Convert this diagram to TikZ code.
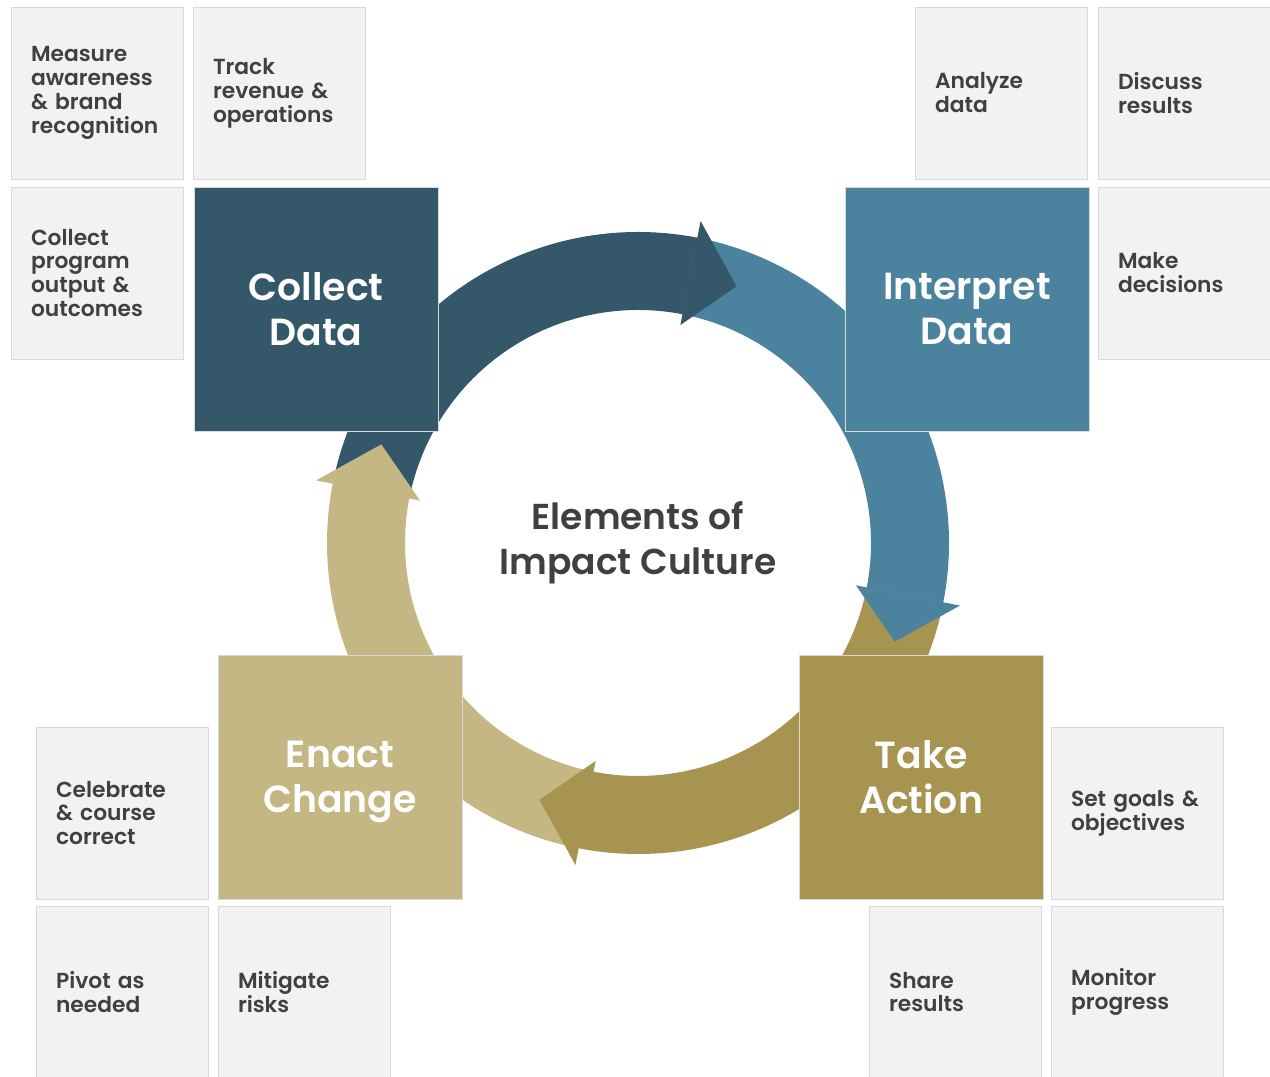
\documentclass[tikz,border=0pt]{standalone}
\usepackage{fontspec}
\setmainfont{Poppins}[BoldFont={Poppins SemiBold}]
\usetikzlibrary{calc}
\definecolor{slateteal}{HTML}{34586A}
\definecolor{steelblue}{HTML}{4B839E}
\definecolor{olivegold}{HTML}{A69450}
\definecolor{sandtan}{HTML}{C4B783}
\definecolor{panelgray}{HTML}{F2F2F2}
\definecolor{panelline}{HTML}{D9D9D9}
\definecolor{textdark}{HTML}{404040}

\begin{document}
\begin{tikzpicture}[x=0.02cm, y=0.02cm,
    stagebox/.style={draw=panelline, line width=0.5pt, minimum width=4.88cm, minimum height=4.88cm,
        text=white, align=center, font=\fontsize{21.5}{25.5}\selectfont\bfseries},
    tipbox/.style={draw=panelline, fill=panelgray, line width=0.5pt, text width=2.64cm, inner xsep=0.4cm,
        minimum height=3.44cm, align=left, text=textdark, font=\fontsize{12.4}{13.6}\selectfont\bfseries}]
    \useasboundingbox (0,0) rectangle (1270,1077);
    \coordinate (hub) at (638,534);

    % Cycle arrows (bodies first, heads on top)
    \foreach \tail/\col in {169/slateteal, 79/steelblue, -11/olivegold, -101/sandtan}
        \fill[\col] ($(hub)+(\tail:311)$) arc[start angle=\tail, end angle=\tail-91, radius=311]
            -- ($(hub)+(\tail-91:233)$) arc[start angle=\tail-91, end angle=\tail, radius=233] -- cycle;
    \foreach \tail/\col in {169/slateteal, 79/steelblue, -11/olivegold, -101/sandtan}
        \fill[\col] ($(hub)+(\tail-90:328)$) -- ($(hub)+(\tail-100:275)$) -- ($(hub)+(\tail-90:222)$) -- cycle;

    % Stage boxes
    \node[stagebox, fill=slateteal, text depth=-6pt] (collect) at (316,768) {Collect\\Data};
    \node[stagebox, fill=steelblue, text depth=-6pt] (interpret) at (967,768) {Interpret\\Data};
    \node[stagebox, fill=olivegold, text depth=-6pt] (action) at (921,300) {Take\\Action};
    \node[stagebox, fill=sandtan, text depth=-6pt] (enact) at (340,300) {Enact\\Change};

    % Center label
    \node[text=textdark, align=center, font=\fontsize{20.5}{25.5}\selectfont\bfseries] (title) at (hub) {Elements of\\Impact Culture};

    % Task boxes
    \node[tipbox] (measure) at (97,984) {Measure\\awareness\\\& brand\\recognition};
    \node[tipbox] (track) at (279,984) {Track\\revenue \&\\operations};
    \node[tipbox] (program) at (97,804) {Collect\\program\\output \&\\outcomes};
    \node[tipbox] (analyze) at (1001,984) {Analyze\\data};
    \node[tipbox] (discuss) at (1184,984) {Discuss\\results};
    \node[tipbox] (decide) at (1184,804) {Make\\decisions};
    \node[tipbox] (goals) at (1137,264) {Set goals \&\\objectives};
    \node[tipbox] (share) at (955,85) {Share\\results};
    \node[tipbox] (monitor) at (1137,85) {Monitor\\progress};
    \node[tipbox] (celebrate) at (122,264) {Celebrate\\\& course\\correct};
    \node[tipbox] (pivot) at (122,85) {Pivot as\\needed};
    \node[tipbox] (mitigate) at (304,85) {Mitigate\\risks};
\end{tikzpicture}
\end{document}
